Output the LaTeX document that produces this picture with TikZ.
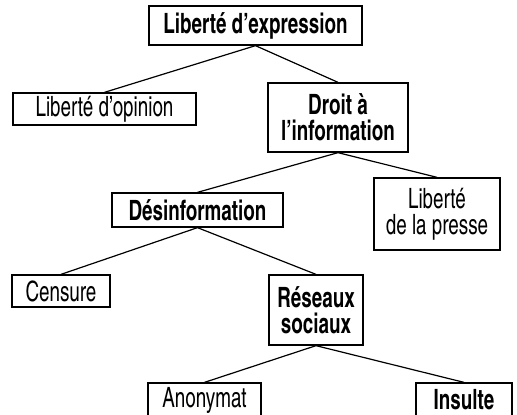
\documentclass[tikz,border=0pt]{standalone}
\usepackage{fontspec}
\setmainfont{TeX Gyre Heros Cn}[FakeStretch=0.82]
\begin{document}
\begin{tikzpicture}[x=1pt,y=-1pt,
  box/.style={draw, line width=1.3pt, inner sep=0pt, align=center, font=\fontsize{28}{26}\selectfont},
  bbox/.style={box, font=\fontsize{28}{26}\selectfont\bfseries},
  link/.style={line width=1.2pt}]
\useasboundingbox (0,0) rectangle (517,415);
\node[bbox, minimum width=213pt, minimum height=39pt] (expr) at (255.5,25.5) {Liberté d’expression};
\node[box, minimum width=183pt, minimum height=32pt] (opin) at (104.5,109) {Liberté d’opinion};
\node[bbox, minimum width=140pt, minimum height=69pt] (droit) at (338,117.5) {Droit à\\l’information};
\node[bbox, minimum width=171pt, minimum height=34pt] (desinf) at (197.5,210) {Désinformation};
\node[box, minimum width=126pt, minimum height=72pt] (presse) at (437,214) {Liberté\\de la presse};
\node[box, minimum width=98pt, minimum height=32pt] (censure) at (61,291) {Censure};
\node[bbox, minimum width=94pt, minimum height=70pt] (reseaux) at (316,310) {Réseaux\\sociaux};
\node[box, minimum width=113pt, minimum height=34pt] (anon) at (204.5,400) {Anonymat};
\node[bbox, minimum width=96pt, minimum height=34pt] (insulte) at (464,400) {Insulte};
\draw[link] (expr.south) -- (opin.north);
\draw[link] (expr.south) -- (droit.north);
\draw[link] (droit.south) -- (desinf.north);
\draw[link] (droit.south) -- (presse.north);
\draw[link] (desinf.south) -- (censure.north);
\draw[link] (desinf.south) -- (reseaux.north);
\draw[link] (reseaux.south) -- (anon.north);
\draw[link] (reseaux.south) -- (insulte.north);
\end{tikzpicture}
\end{document}
